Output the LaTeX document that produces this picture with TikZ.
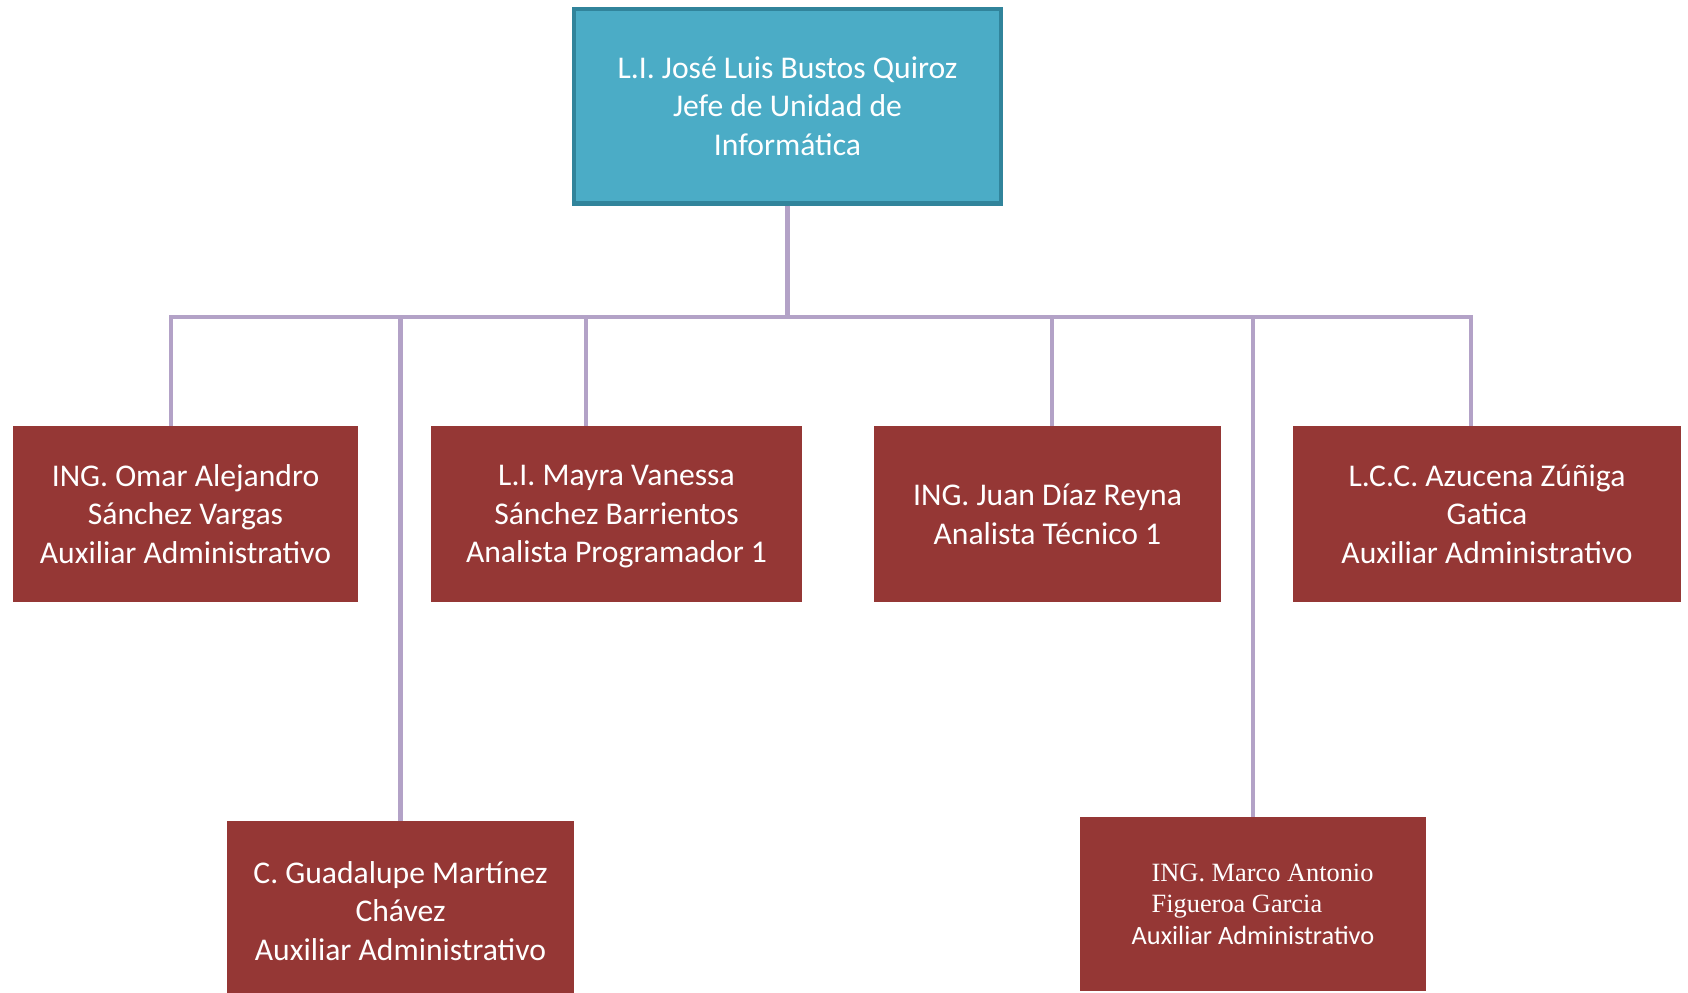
\documentclass[tikz,border=0pt]{standalone}
\usepackage{fontspec}
\setmainfont{Carlito}
\newfontfamily\timesfont{Liberation Serif}
\usetikzlibrary{positioning}
\usepackage{xcolor}
\definecolor{jefeblue}{HTML}{4BACC6}
\definecolor{jefeedge}{HTML}{31849B}
\definecolor{puestored}{HTML}{953735}
\definecolor{ramalila}{HTML}{B3A2C7}
\tikzset{
  jefebox/.style={draw=jefeedge, line width=2.3pt, fill=jefeblue, text=white, align=center,
    minimum width=8.56cm, minimum height=3.9cm, font=\fontsize{18}{22}\selectfont},
  puesto/.style={fill=puestored, text=white, align=center, inner sep=0pt, text depth=0pt,
    minimum height=3.52cm, font=\fontsize{18}{22}\selectfont},
  rama/.style={draw=ramalila, line width=2.8pt},
}

\begin{document}
\begin{tikzpicture}[x=0.02cm, y=-0.02cm]
  \useasboundingbox (0,0) rectangle (1688,992);
  \node[jefebox] (jefe) at (787.5,106) {L.I. José Luis Bustos Quiroz\\Jefe de Unidad de\\Informática};
  \node[puesto, minimum width=6.92cm] (omar) at (185.5,514) {ING. Omar Alejandro\\Sánchez Vargas\\Auxiliar Administrativo};
  \node[puesto, minimum width=7.42cm] (mayra) at (616.5,514) {L.I. Mayra Vanessa\\Sánchez Barrientos\\Analista Programador 1};
  \node[puesto, minimum width=6.94cm] (juan) at (1047.5,514) {ING. Juan Díaz Reyna\\Analista Técnico 1};
  \node[puesto, minimum width=7.76cm] (azucena) at (1487,514) {L.C.C. Azucena Zúñiga\\Gatica\\Auxiliar Administrativo};
  \node[puesto, minimum width=6.94cm, minimum height=3.6cm] (guadalupe) at (400.5,911) {C. Guadalupe Martínez\\Chávez\\Auxiliar Administrativo};
  \node[puesto, minimum width=6.92cm, minimum height=3.48cm, align=left,
    font=\fontsize{15}{18}\selectfont] (marco) at (1253,904)
    {\hspace*{0.4cm}{\timesfont ING. Marco Antonio}\\\hspace*{0.4cm}{\timesfont Figueroa Garcia}\\Auxiliar Administrativo};

  % ramas
  \coordinate (bar) at (787.5,317);
  \draw[rama] (jefe.south) -- (jefe.south |- bar);
  \draw[rama] ([xshift=-0.29cm]omar.north) |- (bar) -| ([xshift=-0.32cm]azucena.north);
  \foreach \p/\dx in {mayra/-0.61cm, juan/0.09cm, guadalupe/0cm, marco/0cm}
    \draw[rama] ([xshift=\dx]\p.north) -- ([xshift=\dx]\p.north |- bar);
\end{tikzpicture}
\end{document}
